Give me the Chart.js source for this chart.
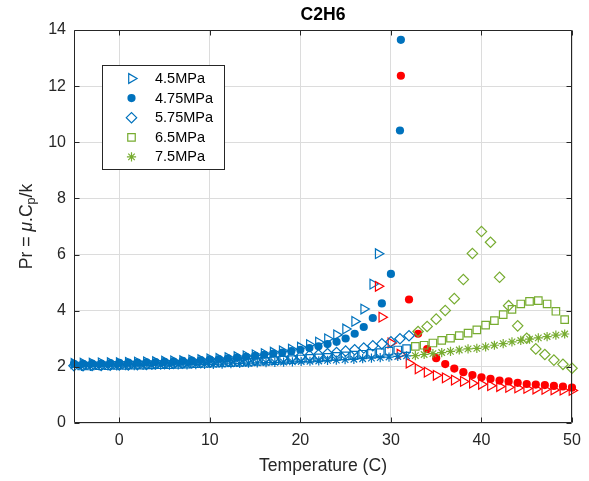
<!DOCTYPE html>
<html>
<head>
<meta charset="utf-8">
<title>C2H6</title>
<script src="https://cdn.jsdelivr.net/npm/chart.js@4.4.1/dist/chart.umd.min.js"></script>
<style>
  html, body { margin: 0; padding: 0; background: #fff; }
  canvas { display: block; }
</style>
</head>
<body>
<canvas id="chart" width="589" height="481"></canvas>
<script>
// temperatures (C)
const temp45Liq = [-5,-4,-3,-2,-1,0,1,2,3,4,5,6,7,8,9,10,11,12,13,14,15,16,17,18,19,20,21,22,23,24,25,26,27,28,28.6];
const temp45Vap = [28.6,29,30,31,32,33,34,35,36,37,38,39,40,41,42,43,44,45,46,47,48,49,50];
const temp475Liq = [-5,-4,-3,-2,-1,0,1,2,3,4,5,6,7,8,9,10,11,12,13,14,15,16,17,18,19,20,21,22,23,24,25,26,27,28,29,30,31,31.1];
const temp475Vap = [31.1,32,33,34,35,36,37,38,39,40,41,42,43,44,45,46,47,48,49,50];
const temp575Low = [-5,-4,-3,-2,-1,0,1,2,3,4,5,6,7,8,9,10,11,12,13,14,15,16,17,18,19,20,21,22,23,24,25,26,27,28,29,30,31,32];
const temp575High = [33,34,35,36,37,38,39,40,41,42,43,44,45,46,47,48,49,50];
const tempHpLow = [-4.16,-3.19,-2.22,-1.25,-0.28,0.69,1.66,2.63,3.60,4.57,5.54,6.51,7.48,8.45,9.42,10.39,11.36,12.33,13.30,14.27,15.24,16.21,17.18,18.15,19.12,20.09,21.06,22.03,23.00,23.97,24.94,25.91,26.88,27.85,28.82,29.79,30.76,31.73];
const tempHpHigh = [32.70,33.67,34.64,35.61,36.58,37.55,38.52,39.49,40.46,41.43,42.40,43.37,44.34,45.31,46.28,47.25,48.22,49.19];

// Prandtl number per pressure
const pr45Liq = [2.12,2.13,2.13,2.14,2.15,2.15,2.16,2.17,2.18,2.19,2.20,2.21,2.22,2.24,2.26,2.28,2.30,2.33,2.36,2.39,2.43,2.47,2.52,2.57,2.63,2.70,2.79,2.88,3.00,3.14,3.35,3.62,4.06,4.95,6.03];
const pr45Vap = [4.87,3.77,2.85,2.45,2.13,1.93,1.81,1.70,1.61,1.53,1.48,1.42,1.38,1.33,1.30,1.27,1.25,1.23,1.21,1.20,1.18,1.17,1.16];
const pr475Liq = [2.11,2.11,2.12,2.12,2.13,2.14,2.15,2.15,2.16,2.17,2.18,2.19,2.21,2.22,2.24,2.26,2.28,2.30,2.33,2.36,2.39,2.43,2.47,2.51,2.56,2.61,2.67,2.73,2.81,2.89,3.01,3.18,3.42,3.74,4.26,5.31,10.42,13.65];
const pr475Vap = [12.37,4.40,3.18,2.63,2.31,2.10,1.94,1.81,1.71,1.63,1.57,1.51,1.48,1.43,1.39,1.37,1.35,1.32,1.30,1.26];
const pr575Low = [2.04,2.04,2.05,2.05,2.06,2.07,2.07,2.08,2.09,2.10,2.11,2.12,2.13,2.14,2.15,2.17,2.18,2.20,2.21,2.23,2.25,2.27,2.29,2.31,2.34,2.37,2.40,2.43,2.47,2.51,2.56,2.61,2.67,2.75,2.82,2.89,3.00,3.11];
const pr575High = [3.26,3.44,3.70,4.01,4.43,5.11,6.04,6.82,6.44,5.19,4.18,3.46,3.02,2.64,2.44,2.24,2.09,1.95];
const pr65Low = [2.03,2.03,2.04,2.04,2.05,2.05,2.06,2.06,2.07,2.08,2.08,2.09,2.10,2.11,2.12,2.13,2.14,2.15,2.16,2.17,2.19,2.20,2.22,2.24,2.26,2.28,2.30,2.32,2.34,2.37,2.39,2.42,2.45,2.48,2.51,2.56,2.60,2.65];
const pr65High = [2.73,2.77,2.85,2.94,3.02,3.11,3.20,3.32,3.49,3.65,3.86,4.05,4.24,4.33,4.36,4.24,3.98,3.68];
const pr75Low = [2.02,2.02,2.03,2.03,2.03,2.04,2.04,2.05,2.05,2.06,2.06,2.07,2.07,2.08,2.09,2.09,2.10,2.11,2.12,2.13,2.14,2.15,2.16,2.17,2.18,2.19,2.20,2.21,2.23,2.24,2.26,2.27,2.29,2.31,2.33,2.35,2.37,2.39];
const pr75High = [2.40,2.44,2.47,2.51,2.55,2.60,2.64,2.66,2.71,2.77,2.83,2.89,2.94,2.99,3.03,3.08,3.13,3.17];

const xTicks = [0, 10, 20, 30, 40, 50];
const legendLabels = ['4.5MPa', '4.75MPa', '5.75MPa', '6.5MPa', '7.5MPa'];

const BLUE = '#0072BD', RED = '#FF0000', GREEN = '#77AC30';
const AXIS = '#262626';
const FONT = "'Liberation Sans', Arial, sans-serif";

const markers = {
  tri:  { pointStyle: 'triangle', pointRadius: 5.6, pointRotation: 90 },
  dot:  { pointStyle: 'circle', pointRadius: 4.1, pointRotation: 0 },
  dia:  { pointStyle: 'rectRot', pointRadius: 5.2, pointRotation: 0 },
  sq:   { pointStyle: 'rect', pointRadius: 5.3, pointRotation: 0 },
  star: { pointStyle: 'star', pointRadius: 4.6, pointRotation: 0 }
};

const pts = (xs, ys) => xs.map((t, i) => ({ x: t, y: ys[i] }));

function series(label, xs, ys, mk, color, filled, order) {
  return {
    label,
    data: pts(xs, ys),
    ...markers[mk],
    pointBorderColor: color,
    pointBackgroundColor: filled ? color : 'rgba(0,0,0,0)',
    pointBorderWidth: filled ? 0 : 1.2,
    showLine: false,
    clip: false,
    order
  };
}

// MATLAB draws later series on top -> lower order value
const datasets = [
  series('4.5MPa', temp45Liq, pr45Liq, 'tri', BLUE, false, 10),
  series('4.5MPa gas', temp45Vap, pr45Vap, 'tri', RED, false, 9),
  series('4.75MPa', temp475Liq, pr475Liq, 'dot', BLUE, true, 8),
  series('4.75MPa gas', temp475Vap, pr475Vap, 'dot', RED, true, 7),
  series('5.75MPa', temp575Low, pr575Low, 'dia', BLUE, false, 6),
  series('5.75MPa sc', temp575High, pr575High, 'dia', GREEN, false, 5),
  series('6.5MPa', tempHpLow, pr65Low, 'sq', BLUE, false, 4),
  series('6.5MPa sc', tempHpHigh, pr65High, 'sq', GREEN, false, 3),
  series('7.5MPa', tempHpLow, pr75Low, 'star', BLUE, false, 2),
  series('7.5MPa sc', tempHpHigh, pr75High, 'star', GREEN, false, 1)
];

const legendItems = [
  { mk: 'tri', color: BLUE, filled: false },
  { mk: 'dot', color: BLUE, filled: true },
  { mk: 'dia', color: BLUE, filled: false },
  { mk: 'sq', color: GREEN, filled: false },
  { mk: 'star', color: GREEN, filled: false }
];

// box, inward ticks, titles, legend in matlab style
const matlabFrame = {
  id: 'matlabFrame',
  afterDatasetsDraw(chart) {
    const { ctx, chartArea: a, scales: { x, y } } = chart;
    const L = Math.round(a.left) + 0.5, R = Math.round(a.right) - 0.5;
    const T = Math.round(a.top) + 0.5, B = Math.round(a.bottom) - 0.5;
    ctx.save();
    ctx.strokeStyle = AXIS;
    ctx.lineWidth = 1;
    ctx.beginPath();
    ctx.rect(L, T, R - L, B - T);
    xTicks.forEach(v => {
      const px = Math.round(x.getPixelForValue(v)) + 0.5;
      ctx.moveTo(px, B); ctx.lineTo(px, B - 5);
      ctx.moveTo(px, T); ctx.lineTo(px, T + 5);
    });
    y.ticks.forEach(t => {
      const py = Math.round(y.getPixelForValue(t.value)) + 0.5;
      ctx.moveTo(L, py); ctx.lineTo(L + 5, py);
      ctx.moveTo(R, py); ctx.lineTo(R - 5, py);
    });
    ctx.stroke();

    // title + axis labels
    const cx = (a.left + a.right) / 2;
    ctx.fillStyle = '#000';
    ctx.textAlign = 'center';
    ctx.textBaseline = 'middle';
    ctx.font = 'bold 17.6px ' + FONT;
    ctx.fillText('C2H6', cx, 15.5);
    ctx.fillStyle = AXIS;
    ctx.font = '17.6px ' + FONT;
    ctx.fillText('Temperature (C)', cx, 466);

    // y label with italic mu and subscript p
    const parts = [
      { t: 'Pr = ', f: '17.6px ' + FONT, dy: 0 },
      { t: 'μ', f: 'italic 17.6px ' + FONT, dy: 0 },
      { t: '.C', f: '17.6px ' + FONT, dy: 0 },
      { t: 'p', f: '12.5px ' + FONT, dy: 5 },
      { t: '/k', f: '17.6px ' + FONT, dy: 0 }
    ];
    let total = 0;
    parts.forEach(p => { ctx.font = p.f; p.w = ctx.measureText(p.t).width; total += p.w; });
    ctx.save();
    ctx.translate(27, (a.top + a.bottom) / 2);
    ctx.rotate(-Math.PI / 2);
    ctx.textAlign = 'left';
    let pos = -total / 2;
    parts.forEach(p => { ctx.font = p.f; ctx.fillText(p.t, pos, p.dy); pos += p.w; });
    ctx.restore();

    // legend
    const lx = 102.5, ly = 65.5, lw = 122, lh = 104;
    ctx.fillStyle = '#fff';
    ctx.fillRect(lx, ly, lw, lh);
    ctx.strokeStyle = AXIS;
    ctx.strokeRect(lx, ly, lw, lh);
    ctx.textAlign = 'left';
    ctx.textBaseline = 'middle';
    legendItems.forEach((it, i) => {
      const my = 78.5 + i * 19.6;
      const m = markers[it.mk];
      ctx.save();
      ctx.strokeStyle = it.color;
      ctx.fillStyle = it.filled ? it.color : 'rgba(0,0,0,0)';
      ctx.lineWidth = 1.2;
      Chart.helpers.drawPoint(ctx, {
        pointStyle: m.pointStyle, radius: m.pointRadius, rotation: m.pointRotation,
        borderWidth: it.filled ? 0 : 1.2
      }, 131.5, my);
      ctx.restore();
      ctx.fillStyle = '#000';
      ctx.font = '14.5px ' + FONT;
      ctx.fillText(legendLabels[i], 155, my + 0.5);
    });
    ctx.restore();
  }
};

new Chart(document.getElementById('chart'), {
  type: 'scatter',
  data: { datasets },
  options: {
    responsive: false,
    animation: false,
    devicePixelRatio: 1,
    layout: { padding: { top: 30, right: 17, bottom: 0, left: 0 } },
    plugins: { legend: { display: false }, title: { display: false }, tooltip: { enabled: false } },
    scales: {
      x: {
        type: 'linear',
        min: -5, max: 50,
        afterBuildTicks: s => { s.ticks = xTicks.map(v => ({ value: v })); },
        afterFit: s => { s.height = 58; },
        grid: { color: '#dcdcdc', drawTicks: false },
        border: { display: false },
        ticks: { color: AXIS, font: { family: FONT, size: 16 }, padding: 8, maxRotation: 0 }
      },
      y: {
        type: 'linear',
        min: 0, max: 14,
        afterFit: s => { s.width = 74; },
        grid: { color: '#dcdcdc', drawTicks: false },
        border: { display: false },
        ticks: { color: AXIS, font: { family: FONT, size: 16 }, padding: 8, stepSize: 2 }
      }
    }
  },
  plugins: [matlabFrame]
});
</script>
</body>
</html>
